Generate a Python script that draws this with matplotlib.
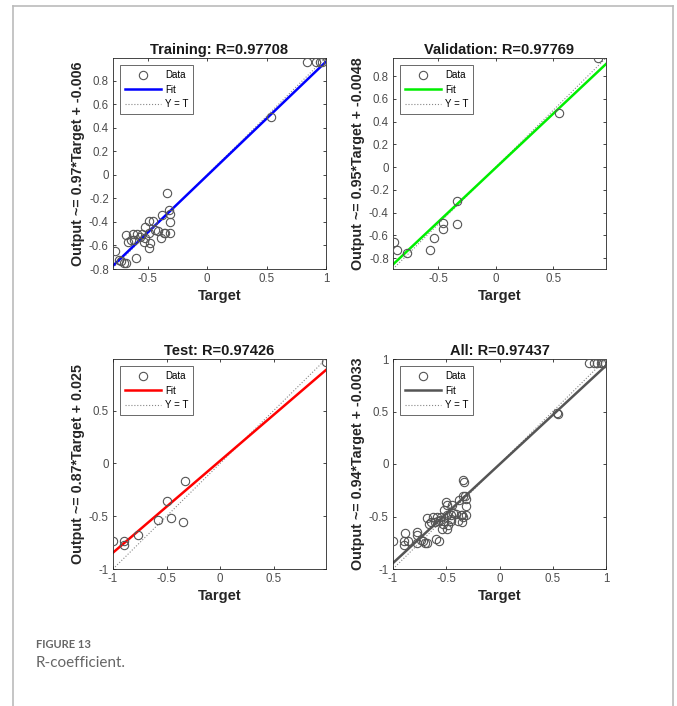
import numpy as np
import matplotlib.pyplot as plt
from matplotlib.lines import Line2D
from matplotlib.ticker import FormatStrFormatter

plt.rcParams['font.family'] = ['Liberation Sans', 'DejaVu Sans']

# -----------------------------
# DATA
# -----------------------------

train_target = [0.84, 0.92, 0.95, 0.97, 0.54, -0.34, -0.32, -0.31, -0.31, -0.38, -0.31,
                -0.36, -0.39, -0.45, -0.49, -0.52, -0.49, -0.55, -0.59, -0.62, -0.68,
                -0.64, -0.61, -0.52, -0.48, -0.49, -0.60, -0.77, -0.74, -0.72, -0.68,
                -0.44, -0.41, -0.35, -0.56, -0.53, -0.66, -0.70]
train_output = [0.96, 0.96, 0.96, 0.96, 0.49, -0.15, -0.30, -0.33, -0.40, -0.34, -0.49,
                -0.49, -0.54, -0.39, -0.39, -0.44, -0.49, -0.50, -0.50, -0.50, -0.51,
                -0.55, -0.55, -0.54, -0.58, -0.62, -0.71, -0.65, -0.72, -0.73, -0.75,
                -0.47, -0.48, -0.49, -0.53, -0.57, -0.57, -0.75]

val_target = [0.89, 0.55, -0.34, -0.34, -0.46, -0.46, -0.54, -0.57, -0.77, -0.86, -0.89]
val_output = [0.96, 0.48, -0.30, -0.50, -0.49, -0.54, -0.62, -0.73, -0.75, -0.73, -0.66]

test_target = [0.99, -0.33, -0.50, -0.46, -0.35, -0.58, -0.77, -0.90, -0.90, -1.00]
test_output = [0.96, -0.17, -0.36, -0.52, -0.55, -0.54, -0.68, -0.73, -0.77, -0.73]

titles = ["Training: R=0.97708", "Validation: R=0.97769", "Test: R=0.97426", "All: R=0.97437"]
slopes = [0.97, 0.95, 0.87, 0.94]
offsets = [-0.006, -0.0048, 0.025, -0.0033]
ylabels = ["Output ~= 0.97*Target + -0.006", "Output ~= 0.95*Target + -0.0048",
           "Output ~= 0.87*Target + 0.025", "Output ~= 0.94*Target + -0.0033"]
fit_colors = ["#0000ff", "#00ee00", "#ff0000", "#555555"]
limits = [(-0.79, 0.995), (-0.895, 0.96), (-1.0, 0.99), (-1.0, 1.0)]
xticks = [[-0.5, 0, 0.5, 1], [-0.5, 0, 0.5], [-1, -0.5, 0, 0.5], [-1, -0.5, 0, 0.5, 1]]
yticks = [[-0.8, -0.6, -0.4, -0.2, 0, 0.2, 0.4, 0.6, 0.8]] * 2 + \
         [[-1, -0.5, 0, 0.5], [-1, -0.5, 0, 0.5, 1]]

targets = [train_target, val_target, test_target, train_target + val_target + test_target]
outputs = [train_output, val_output, test_output, train_output + val_output + test_output]

# -----------------------------
# FIGURE
# -----------------------------

W, H = 677, 706
fig = plt.figure(figsize=(W / 100, H / 100), dpi=100)

# axes boxes in pixels: left, top, right, bottom
boxes = [(113, 58, 326, 269), (393, 58, 606, 269), (113, 359, 326, 569), (393, 359, 606, 569)]

for i in range(4):
    l, t, r, b = boxes[i]
    ax = fig.add_axes([l / W, 1 - b / H, (r - l) / W, (b - t) / H])
    lo, hi = limits[i]
    xs = np.array([lo, hi])

    ax.plot(targets[i], outputs[i], 'o', mfc='none', mec='#555555', ms=6, mew=0.8,
            label='Data', zorder=3)
    ax.plot(xs, slopes[i] * xs + offsets[i], '-', color=fit_colors[i], lw=1.8,
            label='Fit', zorder=2)
    ax.plot(xs, xs, ':', color='#888888', lw=0.8, label='Y = T', zorder=1)

    ax.set_xlim(lo, hi)
    ax.set_ylim(lo, hi)
    ax.set_xticks(xticks[i])
    ax.set_yticks(yticks[i])
    ax.xaxis.set_major_formatter(FormatStrFormatter('%g'))
    ax.yaxis.set_major_formatter(FormatStrFormatter('%g'))
    ax.tick_params(direction='in', length=2.5, width=0.6, labelsize=8.3,
                   colors='#262626', labelcolor='#4d4d4d', top=True, right=True, pad=3)
    for s in ax.spines.values():
        s.set_color('#262626')
        s.set_linewidth(0.6)

    ax.set_title(titles[i], fontsize=10.5, fontweight='bold', color='#1a1a1a', pad=3)
    ax.set_xlabel('Target', fontsize=10.5, fontweight='bold', color='#262626', labelpad=3)
    ax.set_ylabel(ylabels[i], fontsize=10.3, fontweight='bold', color='#262626', labelpad=3)

    leg = ax.legend(loc='upper left', fontsize=7, frameon=True, fancybox=False,
                    edgecolor='#262626', borderaxespad=0.75, handlelength=3.7,
                    labelspacing=0.45, borderpad=0.5, handletextpad=0.4)
    leg.get_frame().set_linewidth(0.6)

# outer frame of the figure panel
frame = dict(color='#bbbbbb', lw=1.2, transform=fig.transFigure)
fig.add_artist(Line2D([13 / W, 13 / W], [0, 1 - 6 / H], **frame))
fig.add_artist(Line2D([13 / W, 673 / W], [1 - 6 / H, 1 - 6 / H], **frame))
fig.add_artist(Line2D([673 / W, 673 / W], [0, 1 - 6 / H], **frame))

# caption
fig.text(36 / W, 1 - 644 / H, 'FIGURE 13', fontsize=8, fontweight='bold',
         color='#666666', family='Lato', va='center')
fig.text(36 / W, 1 - 663 / H, 'R-coefficient.', fontsize=11, color='#666666',
         family='Lato', va='center')

fig.savefig('out.png', dpi=100)
